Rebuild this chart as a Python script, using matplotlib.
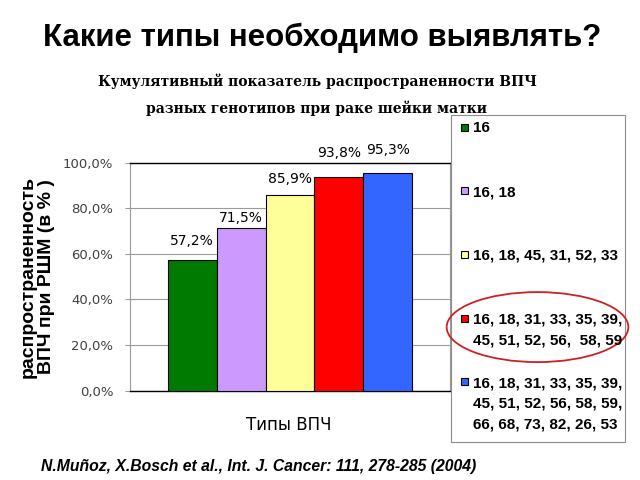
import matplotlib
matplotlib.use("Agg")
import matplotlib.pyplot as plt
from matplotlib.patches import Rectangle, Ellipse
from matplotlib.ticker import FuncFormatter

# ---------------- data ----------------
title = "Какие типы необходимо выявлять?"
subtitle_lines = ["Кумулятивный показатель распространенности ВПЧ",
                  "разных генотипов при раке шейки матки"]
ylabel = "распространенность\nВПЧ при РШМ (в % )"
xlabel = "Типы ВПЧ"
citation = "N.Muñoz, X.Bosch et al., Int. J. Cancer: 111, 278-285 (2004)"
genotype_groups = [
    "16",
    "16, 18",
    "16, 18, 45, 31, 52, 33",
    "16, 18, 31, 33, 35, 39,\n45, 51, 52, 56,  58, 59",
    "16, 18, 31, 33, 35, 39,\n45, 51, 52, 56, 58, 59,\n66, 68, 73, 82, 26, 53",
]
prevalence = [57.2, 71.5, 85.9, 93.8, 95.3]
bar_colors = ["#007A00", "#CC99FF", "#FFFF99", "#FF0000", "#3366FF"]
y_ticks = [0, 20, 40, 60, 80, 100]
highlight_index = 3

# label offsets above bar tops (points)
label_dy_pt = [13.7, 7.2, 11.2, 17.3, 16.6]

# ---------------- layout helpers ----------------
W, H = 640, 480
fig = plt.figure(figsize=(6.4, 4.8), dpi=100)


def fx(px):
    return px / W


def fy(py):
    return 1 - py / H


ax = fig.add_axes([fx(130), fy(390.7), fx(450) - fx(130), fy(162.5) - fy(390.7)])
xpos = list(range(len(prevalence)))
ax.bar(xpos, prevalence, width=1.0, color=bar_colors, edgecolor="black",
       linewidth=0.8, zorder=3)
ax.set_xlim(-1.27, len(prevalence) - 1 + 1.27)
ax.set_ylim(0, 100)
ax.set_yticks(y_ticks)
ax.yaxis.set_major_formatter(FuncFormatter(lambda v, p: f"{v:.1f}".replace(".", ",") + "%"))
ax.set_xticks([])
ax.yaxis.grid(True, color="#9a9a9a", linewidth=0.8)
ax.set_axisbelow(True)
ax.tick_params(axis="y", length=3.6, width=0.8, color="#9a9a9a", pad=8.5,
               labelsize=9.5, labelcolor="#404040")
for lab in ax.get_yticklabels():
    lab.set_family("DejaVu Sans")
ax.spines["top"].set_color("black")
ax.spines["bottom"].set_color("black")
ax.spines["top"].set_linewidth(1.0)
ax.spines["bottom"].set_linewidth(1.0)
ax.spines["left"].set_color("#9a9a9a")
ax.spines["right"].set_color("#9a9a9a")
ax.spines["left"].set_linewidth(0.8)
ax.spines["right"].set_linewidth(0.8)

for xi, v, dy in zip(xpos, prevalence, label_dy_pt):
    ax.annotate(f"{v:.1f}".replace(".", ",") + "%", xy=(xi, v),
                xytext=(0, dy), textcoords="offset points",
                ha="center", va="center", fontsize=10, family="DejaVu Sans",
                color="black", annotation_clip=False)

# ---------------- texts ----------------
fig.text(fx(322), fy(46), title, ha="center", va="baseline", fontsize=22.5,
         fontweight="bold", family="Liberation Sans")
for i, line in enumerate(subtitle_lines):
    fig.text(fx(317), fy(86 + 27 * i), line, ha="center", va="baseline",
             fontsize=10, fontweight="bold", family="DejaVu Serif")
fig.text(fx(37), fy(277), ylabel, rotation=90, ha="center", va="center",
         fontsize=14, fontweight="bold", family="Liberation Sans",
         linespacing=1.1, multialignment="center")
fig.text(fx(288.5), fy(425), xlabel, ha="center", va="center", fontsize=12,
         family="DejaVu Sans")
fig.text(fx(40.7), fy(471.5), citation, ha="left", va="baseline", fontsize=11.3,
         fontweight="bold", style="italic", family="Liberation Sans")

# ---------------- legend (manual, Excel-style even spacing) ----------------
fig.add_artist(Rectangle((fx(450.7), fy(441.7)), fx(625) - fx(450.7),
                         fy(115) - fy(441.7), transform=fig.transFigure,
                         fill=False, edgecolor="#8c8c8c", linewidth=0.8))
for i, (lab, c) in enumerate(zip(genotype_groups, bar_colors)):
    cy = 127 + 63.7 * i
    fig.add_artist(Rectangle((fx(460.5), fy(cy + 3.5)), 7 / W, 7 / H,
                             transform=fig.transFigure, facecolor=c,
                             edgecolor="black", linewidth=0.8))
    fig.text(fx(473), fy(cy - 5.6), lab, ha="left", va="top",
             fontsize=11, fontweight="bold", family="Liberation Sans",
             linespacing=1.6)
    if i == highlight_index:
        fig.add_artist(Ellipse((fx(537.5), fy(cy + 9)), 181.7 / W, 70 / H,
                               transform=fig.transFigure, fill=False,
                               edgecolor="#CC2222", linewidth=1.3))

fig.savefig("out.png", dpi=100)
